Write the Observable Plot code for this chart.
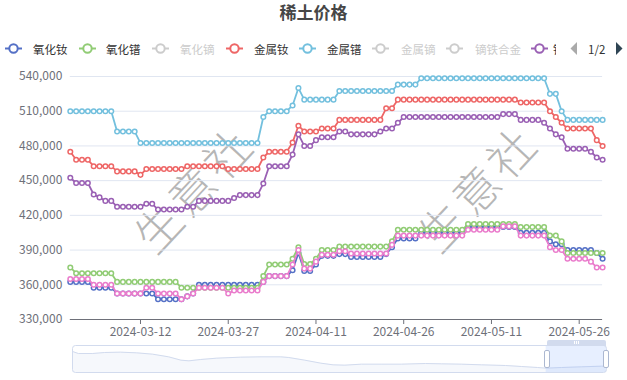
<!DOCTYPE html>
<html>
<head>
<meta charset="utf-8">
<script src="https://cdn.jsdelivr.net/npm/d3@7"></script>
<script src="https://cdn.jsdelivr.net/npm/@observablehq/plot@0.6"></script>
<style>
  body { margin: 0; background: #fff; font-family: "Noto Sans CJK SC", "Noto Sans", sans-serif; }
  #wrap { position: relative; width: 627px; height: 380px; overflow: hidden; background: #fff; }
  #title { position: absolute; left: 0; top: 0px; width: 627px; text-align: center; font-size: 17px; font-weight: bold; color: #464646; line-height: 24px; }
  .li { position: absolute; top: 40px; height: 17px; display: flex; align-items: center; font-size: 11.5px; color: #333; white-space: nowrap; }
  .li svg { display: block; }
  .off { color: #ccc; }
  .wm { position: absolute; font-size: 46px; font-weight: 300; color: rgba(110,110,110,0.5); letter-spacing: 4px; transform: translate(-50%, -50%) rotate(-47deg); white-space: nowrap; line-height: 1; }
  #chart, #slider { position: absolute; left: 0; }
  #chart { top: 0; }
  #slider { top: 338px; }
  .sl { position: absolute; box-sizing: border-box; }
</style>
</head>
<body>
<div id="wrap">
  <div class="wm" style="left:192px; top:188px;">生意社</div>
  <div class="wm" style="left:476px; top:187px;">生意社</div>
  <div id="chart"></div>
  <div id="slider"></div>
  <div id="title">稀土价格</div>
  <div id="legend"></div>
</div>
<script>
// ---------- data ----------
const startDate = new Date(Date.UTC(2024, 1, 29));
const endDate = new Date(Date.UTC(2024, 4, 31));
const dates = d3.utcDay.range(startDate, endDate); // 2024-02-29 .. 2024-05-30, daily

const xTickLabels = ["2024-03-12", "2024-03-27", "2024-04-11", "2024-04-26", "2024-05-11", "2024-05-26"];
const yTickValues = [330000, 360000, 390000, 420000, 450000, 480000, 510000, 540000];

const legendNames = ["氧化钕", "氧化镨", "氧化镝", "金属钕", "金属镨", "金属镝", "镝铁合金", "镨"];
const legendColors = ["#5470c6", "#91cc75", "#cccccc", "#ee6666", "#73c0de", "#cccccc", "#cccccc", "#9a60b4"];
const legendActive = [true, true, false, true, true, false, false, true];

const seriesNames = ["氧化钕", "氧化镨", "金属钕", "金属镨", "镨钕合金", "氧化镨钕"];
const seriesColors = ["#5470c6", "#91cc75", "#ee6666", "#73c0de", "#9a60b4", "#ea7ccc"];

const ndOxide = [
  362500,362500,362500,362500,357500,357500,357500,357500,352500,352500,
  352500,352500,352500,352500,352500,347500,347500,347500,347500,347500,
  350000,352500,360000,360000,360000,360000,360000,360000,360000,360000,
  360000,360000,360000,362500,367500,367500,367500,367500,372500,387500,
  372000,372000,377500,385000,385000,385000,386500,386500,384000,384000,
  384000,384000,384000,384000,386500,392500,400000,400000,400000,400000,
  405000,405000,405000,405000,405000,405000,405000,405000,410000,410000,
  410000,410000,410000,410000,410000,410000,410000,405000,405000,405000,
  405000,405000,397500,395000,395000,390000,390000,390000,390000,390000,
  387500,382500
];
const prOxide = [
  375000,370000,370000,370000,370000,370000,370000,370000,362500,362500,
  362500,362500,362500,362500,362500,362500,362500,362500,362500,357500,
  357500,357500,357500,357500,357500,357500,357500,357500,357500,357500,
  357500,357500,357500,367500,377500,377500,377500,377500,382500,392500,
  378000,378000,382500,390000,390000,390000,393000,393000,393000,393000,
  393000,393000,393000,393000,393000,397500,407500,407500,407500,407500,
  407500,407500,407500,407500,407500,407500,407500,407500,412500,412500,
  412500,412500,412500,412500,412500,412500,412500,410000,410000,410000,
  410000,410000,402500,402500,397500,387500,387500,387500,387500,387500,
  387500,387500
];
const ndMetal = [
  475000,468000,468000,468000,462500,462500,462500,462500,458000,458000,
  458000,458000,455000,460000,460000,460000,460000,460000,460000,460000,
  462500,462500,462500,462500,462500,462500,462500,460000,460000,460000,
  460000,460000,460000,470000,475000,475000,475000,475000,483000,497500,
  492500,492500,492500,495000,495000,495000,502500,502500,502500,502500,
  502500,502500,502500,502500,512500,512500,520000,520000,520000,520000,
  520000,520000,520000,520000,520000,520000,520000,520000,520000,520000,
  520000,520000,520000,520000,520000,520000,520000,517500,517500,517500,
  517500,517500,510000,505000,500000,495000,495000,495000,495000,495000,
  485000,480000
];
const prMetal = [
  510000,510000,510000,510000,510000,510000,510000,510000,492500,492500,
  492500,492500,482500,482500,482500,482500,482500,482500,482500,482500,
  482500,482500,482500,482500,482500,482500,482500,482500,482500,482500,
  482500,482500,482500,505000,510000,510000,510000,510000,515000,530000,
  520000,520000,520000,520000,520000,520000,527500,527500,527500,527500,
  527500,527500,527500,527500,527500,527500,533000,533000,533000,533000,
  538500,538500,538500,538500,538500,538500,538500,538500,538500,538500,
  538500,538500,538500,538500,538500,538500,538500,538500,538500,538500,
  538500,538500,525000,525000,510000,502500,502500,502500,502500,502500,
  502500,502500
];
const prndAlloy = [
  452500,448000,448000,448000,438000,435500,432500,432500,427500,427500,
  427500,427500,427500,430000,430000,425000,425000,425000,425000,425000,
  427500,427500,432500,432500,432500,432500,432500,432500,435000,437500,
  437500,437500,437500,447500,462500,462500,462500,462500,472500,490000,
  480000,480000,485000,487500,487500,487500,492500,492500,490000,490000,
  490000,490000,490000,492500,495000,495000,500000,505000,505000,505000,
  505000,505000,505000,505000,505000,505000,505000,505000,505000,505000,
  505000,505000,505000,505000,507500,507500,507500,502500,502500,502500,
  502500,500000,495000,490000,487500,477500,477500,477500,477500,475000,
  470000,468000
];
const prndOxide = [
  365000,365000,365000,365000,360000,360000,360000,360000,352500,352500,
  352500,352500,352500,357500,357500,352500,352500,352500,352500,347500,
  350000,352500,357500,357500,357500,357500,357500,352500,355000,355000,
  355000,355000,355000,362500,367500,367500,367500,367500,377500,390000,
  374000,374000,380000,386000,386000,386000,389000,389000,387000,387000,
  387000,387000,387000,387000,387000,394500,402500,402500,402500,402500,
  402500,402500,402500,402500,402500,402500,402500,402500,407500,407500,
  407500,407500,407500,407500,410500,410500,410500,402500,402500,402500,
  402500,402500,392500,390000,390000,382500,382500,382500,382500,380000,
  375000,375000
];
const seriesValues = [ndOxide, prOxide, ndMetal, prMetal, prndAlloy, prndOxide];

// overview shadow in the zoom slider (relative height)
const sliderPos = [0,0.011,0.038,0.060,0.090,0.120,0.150,0.180,0.203,0.218,0.240,0.270,0.315,0.353,0.390,0.405,0.435,0.465,0.488,0.510,0.541,0.578,0.616,0.661,0.691,0.728,0.766,0.811,0.841,0.871,0.887,0.916,0.953,0.991,1];
const sliderShadow = [63,57,57,60,61,59,55,47,37,35,39,43,46,47,47,45,37,28,23,22,25,25,25,27,26,25,23,21,18,15,13,15,17,19,19];
const sliderWindow = [{start: 0.887, end: 1}];

// ---------- main chart ----------
const parse = d3.utcParse("%Y-%m-%d");
const xTicks = xTickLabels.map(parse);
const marks = [
  Plot.ruleY(yTickValues.slice(1), {stroke: "#E0E6F1", strokeWidth: 1}),
  Plot.ruleY([yTickValues[0]], {stroke: "#6E7079", strokeWidth: 1})
];
seriesNames.forEach((name, k) => {
  const rows = dates.map((d, i) => ({series: name, date: d, value: seriesValues[k][i]}));
  marks.push(Plot.line(rows, {x: "date", y: "value", stroke: seriesColors[k], strokeWidth: 1.8}));
  marks.push(Plot.dot(rows, {x: "date", y: "value", r: 2.3, fill: "white", stroke: seriesColors[k], strokeWidth: 1.5}));
});

const chart = Plot.plot({
  width: 627,
  height: 380,
  marginTop: 76,
  marginBottom: 61,
  marginLeft: 69.8,
  marginRight: 24.9,
  style: {background: "transparent", fontFamily: '"Noto Sans CJK SC", sans-serif', fontSize: "12px", color: "#6E7079", overflow: "visible"},
  x: {type: "utc", domain: [dates[0], dates[dates.length - 1]], ticks: xTicks, tickFormat: d3.utcFormat("%Y-%m-%d"), tickSize: 5, tickPadding: 3, label: null},
  y: {domain: [330000, 540000], ticks: yTickValues, tickFormat: d3.format(","), tickSize: 0, tickPadding: 8, label: null},
  marks
});
document.getElementById("chart").appendChild(chart);

// ---------- slider ----------
const shadowRows = sliderPos.map((p, i) => ({p, v: sliderShadow[i]}));
const slider = Plot.plot({
  width: 627,
  height: 38,
  marginTop: 7,
  marginBottom: 4,
  marginLeft: 72,
  marginRight: 21,
  style: {background: "transparent", overflow: "visible"},
  x: {domain: [0, 1], axis: null},
  y: {domain: [0, 81], axis: null},
  marks: [
    Plot.areaY(shadowRows, {x: "p", y: "v", fill: "#d2dbee", fillOpacity: 0.2, curve: "linear"}),
    Plot.lineY(shadowRows, {x: "p", y: "v", stroke: "#d2dbee", strokeWidth: 1}),
    Plot.rect(sliderWindow, {x1: "start", x2: "end", y1: 0, y2: 81, fill: "rgb(135,175,274)", fillOpacity: 0.2}),
    Plot.frame({stroke: "#d2dbee", rx: 3})
  ]
});
document.getElementById("slider").appendChild(slider);

// slider handles (UI chrome)
const wrap = document.getElementById("wrap");
function addDiv(css) { const d = document.createElement("div"); d.className = "sl"; d.style.cssText = css; wrap.appendChild(d); return d; }
addDiv("left:547px; top:340px; width:59px; height:6px; background:#d2dbee; border-radius:2px 2px 0 0;");
addDiv("left:574px; top:341px; width:1px; height:3px; background:#fff;");
addDiv("left:576px; top:341px; width:1px; height:3px; background:#fff;");
addDiv("left:578px; top:341px; width:1px; height:3px; background:#fff;");
addDiv("left:544px; top:350px; width:6px; height:18px; background:#fff; border:1px solid #ACB8D1; border-radius:2px;");
addDiv("left:603px; top:350px; width:6px; height:18px; background:#fff; border:1px solid #ACB8D1; border-radius:2px;");

// ---------- legend ----------
const legend = document.getElementById("legend");
const iconX = [5, 79, 152, 226, 299, 372, 446, 531];
const textX = [33, 106, 180, 254, 327, 401, 475, 553];
legendNames.forEach((name, i) => {
  const c = legendColors[i];
  const icon = document.createElement("div");
  icon.className = "li";
  icon.style.left = iconX[i] + "px";
  icon.innerHTML = `<svg width="17" height="17"><line x1="0" y1="8.5" x2="17" y2="8.5" stroke="${c}" stroke-width="2"/><circle cx="8.5" cy="8.5" r="4.2" fill="#fff" stroke="${c}" stroke-width="2"/></svg>`;
  legend.appendChild(icon);
  const t = document.createElement("div");
  t.className = "li" + (legendActive[i] ? "" : " off");
  t.style.left = textX[i] + "px";
  t.textContent = name;
  if (i === legendNames.length - 1) { t.style.width = "3px"; t.style.overflow = "hidden"; }
  legend.appendChild(t);
});
const pager = document.createElement("div");
pager.className = "li";
pager.style.left = "569px";
pager.innerHTML = `<svg width="10" height="17"><path d="M8,2 L1.5,8.5 L8,15 Z" fill="#aaa"/></svg><span style="margin-left:9px;color:#333;font-size:11.5px">1/2</span><svg width="10" height="17" style="margin-left:9px"><path d="M2,2 L8.5,8.5 L2,15 Z" fill="#2f4554"/></svg>`;
legend.appendChild(pager);
</script>
</body>
</html>
